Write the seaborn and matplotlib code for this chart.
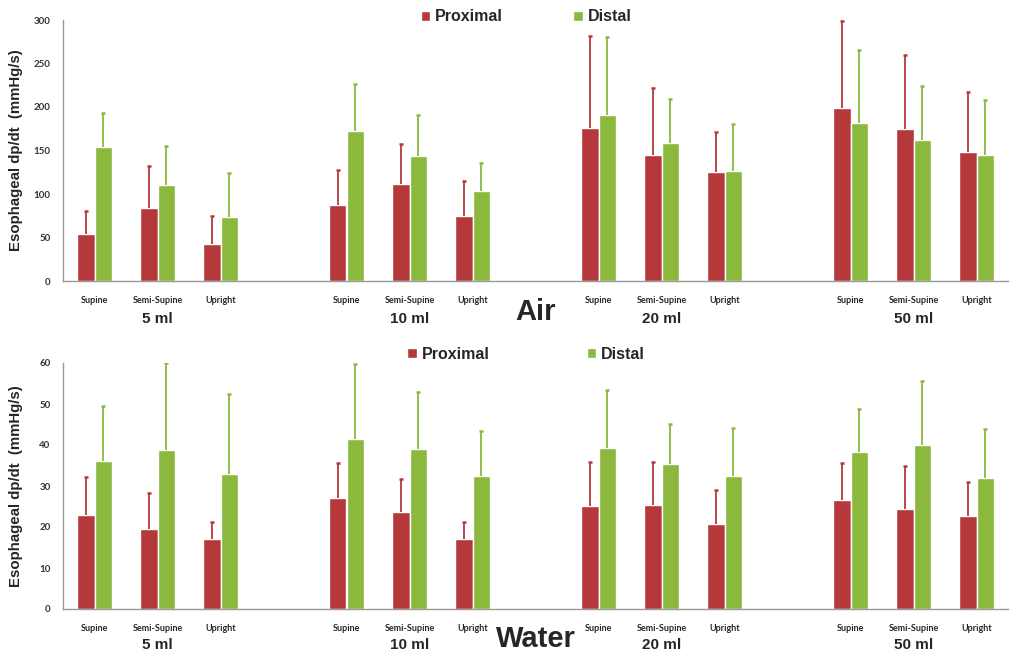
import matplotlib
matplotlib.use("Agg")
import matplotlib.pyplot as plt
import numpy as np
import pandas as pd
import seaborn as sns

# ---- data ----
volumes = ["5 ml", "10 ml", "20 ml", "50 ml"]
positions = ["Supine", "Semi-Supine", "Upright"]
series = ["Proximal", "Distal"]

air_proximal = [54, 84, 43, 87, 111, 75, 176, 145, 125, 199, 175, 148]
air_distal = [154, 110, 73, 172, 144, 104, 191, 159, 126, 182, 162, 145]
air_proximal_top = [80, 132, 75, 128, 157, 115, 282, 222, 171, 299, 260, 217]
air_distal_top = [193, 155, 124, 226, 191, 136, 281, 209, 181, 266, 224, 208]

water_proximal = [23.0, 19.6, 17.1, 27.0, 23.7, 17.0, 25.2, 25.3, 20.7, 26.6, 24.3, 22.6]
water_distal = [36.2, 38.9, 33.0, 41.4, 39.1, 32.5, 39.3, 35.3, 32.4, 38.3, 40.0, 32.0]
water_proximal_top = [32.3, 28.4, 21.3, 35.6, 31.6, 21.3, 35.9, 35.8, 29.0, 35.6, 35.0, 30.9]
water_distal_top = [49.6, 59.9, 52.4, 59.8, 53.0, 43.3, 53.3, 45.2, 44.2, 48.9, 55.5, 44.0]

RED = "#B5383B"
GREEN = "#8AB93D"
palette = {"Proximal": RED, "Distal": GREEN}

# category order with an empty slot between volume groups
order = []
slot_keys = []
for i, vol in enumerate(volumes):
    for pos in positions:
        order.append(f"{vol}|{pos}")
        slot_keys.append(f"{vol}|{pos}")
    if i < len(volumes) - 1:
        order.append(f"gap{i}")


def make_frame(prox, dist, prox_top, dist_top):
    rows = []
    for key, p, d, pt, dt in zip(slot_keys, prox, dist, prox_top, dist_top):
        rows.append({"slot": key, "series": "Proximal", "value": p, "err": pt - p})
        rows.append({"slot": key, "series": "Distal", "value": d, "err": dt - d})
    return pd.DataFrame(rows)


def draw_panel(ax, df, ymax, ystep, title, leg_y, colspace):
    sns.barplot(data=df, x="slot", y="value", hue="series", order=order,
                hue_order=series, palette=palette, width=0.57, gap=0,
                errorbar=None, saturation=1, ax=ax)

    # one-sided (upper) error bars, matched to bars by their x position
    for container, name in zip(ax.containers, series):
        sub = df[df["series"] == name].set_index("slot")
        for bar in container:
            if np.isnan(bar.get_height()):
                continue
            cx = bar.get_x() + bar.get_width() / 2
            key = order[int(round(cx))]
            top = bar.get_height() + sub.loc[key, "err"]
            ax.vlines(cx, bar.get_height(), top, color=palette[name],
                      linewidth=1.3, zorder=1)
            ax.plot([cx], [top], marker="_", markersize=3.5, mew=1.8,
                    color=palette[name], zorder=1)

    ax.set_xlim(-0.5, len(order) - 0.5)
    ax.set_ylim(0, ymax)
    ax.set_yticks(np.arange(0, ymax + 1, ystep))
    ax.set_xticks([order.index(k) for k in slot_keys])
    ax.set_xticklabels([k.split("|")[1] for k in slot_keys],
                       fontsize=6.5, fontweight="bold", family="Lato")
    for lab in ax.get_yticklabels():
        lab.set_fontsize(7)
        lab.set_fontweight("bold")
        lab.set_family("Lato")
        lab.set_color("#333333")
    ax.tick_params(axis="x", length=0, pad=11)
    ax.tick_params(axis="y", length=3, width=0.8, color="#999999", pad=6)
    ax.set_xlabel("")
    ax.set_ylabel("Esophageal dp/dt  (mmHg/s)", fontsize=10.8, fontweight="bold",
                  family="Liberation Sans")
    ax.yaxis.set_label_coords(-0.042, 0.5)
    for side in ["top", "right"]:
        ax.spines[side].set_visible(False)
    for side in ["left", "bottom"]:
        ax.spines[side].set_color("#999999")
        ax.spines[side].set_linewidth(1.0)

    for vol in volumes:
        mid = order.index(f"{vol}|{positions[1]}")
        ax.text(mid, -0.145, vol, transform=ax.get_xaxis_transform(),
                ha="center", va="center", fontsize=11, fontweight="bold",
                family="Liberation Sans")
    ax.text(7, -0.12, title, transform=ax.get_xaxis_transform(),
            ha="center", va="center", fontsize=21, fontweight="bold",
            family="Liberation Sans")

    handles, labels = ax.get_legend_handles_labels()
    ax.legend(handles, labels, loc="center", bbox_to_anchor=(0.49, leg_y),
              ncol=2, frameon=False, handlelength=0.6, handleheight=0.6,
              handletextpad=0.3, columnspacing=colspace,
              prop={"family": "Liberation Sans", "weight": "bold", "size": 11.5})


sns.set_style("white")
fig = plt.figure(figsize=(10.11, 6.61), dpi=100)
ax_air = fig.add_axes([63 / 1011, 380 / 661, 945 / 1011, 261 / 661])
ax_water = fig.add_axes([63 / 1011, 52 / 661, 945 / 1011, 246 / 661])

draw_panel(ax_air, make_frame(air_proximal, air_distal, air_proximal_top, air_distal_top),
           300, 50, "Air", 1.012, 4.4)
draw_panel(ax_water, make_frame(water_proximal, water_distal, water_proximal_top, water_distal_top),
           60, 10, "Water", 1.035, 6.1)

fig.savefig("out.png", dpi=100)
